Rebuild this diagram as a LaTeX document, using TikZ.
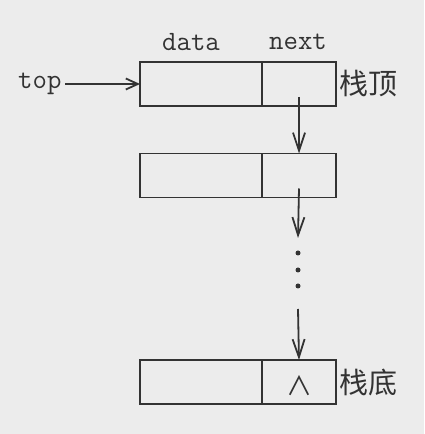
\documentclass[tikz,border=0pt]{standalone}
\usepackage{fontspec}
\newfontfamily\cjk{Noto Sans CJK SC}
\usetikzlibrary{arrows.meta,positioning}
\definecolor{bg}{RGB}{236,236,236}
\definecolor{ink}{RGB}{51,51,51}
\begin{document}
\begin{tikzpicture}[x=1pt,y=1pt,
 field/.style={draw=ink,line width=1.8pt,minimum height=44pt,inner sep=0pt,outer sep=0pt},
 dfield/.style={field,minimum width=122pt},
 nfield/.style={field,minimum width=74pt},
 ptr/.style={draw=ink,line width=1.8pt,-{Straight Barb[length=18pt,width=12pt,line width=1.8pt]}},
 lbl/.style={text=ink,font=\fontsize{28}{32}\ttfamily},
 side/.style={text=ink,font=\fontsize{29}{33}\cjk,anchor=west,inner sep=3pt},
 dot/.style={circle,fill=ink,inner sep=0pt,minimum size=5pt}]
 \fill[bg] (0,0) rectangle (424,434);
 \useasboundingbox (0,0) rectangle (424,434);
 % nodes of the stack
 \node[dfield] (d1) at (201,350) {};
 \node[nfield,right=0pt of d1] (n1) {};
 \node[dfield] (d2) at (201,258.5) {};
 \node[nfield,right=0pt of d2] (n2) {};
 \node[dfield] (d3) at (201,52) {};
 \node[nfield,right=0pt of d3] (n3) {};
 \node[text=ink,font=\fontsize{26}{30}\cjk] (nil) at ([yshift=-4pt]n3.center) {∧};
 % field names
 \node[lbl] (hd) at (191,392) {data};
 \node[lbl] (hn) at (298,392) {next};
 \node[side] (tp) at (n1.east) {栈顶};
 \node[side] (bt) at (n3.east) {栈底};
 \node[lbl,anchor=east] (top) at (65,350) {top};
 % pointers
 \coordinate (p1) at ([yshift=-13pt]n1.center);
 \coordinate (p2) at ([yshift=-13pt]n2.center);
 \coordinate (q2) at (298,196);
 \coordinate (p3) at (298,125);
 \node[dot] (e1) at (298,181) {};
 \node[dot] (e2) at (298,164) {};
 \node[dot] (e3) at (298,148) {};
 \draw[ptr,-{Straight Barb[length=12pt,width=11pt,line width=1.8pt]}] (top) -- (d1);
 \draw[ptr] (p1) -- (n2.north);
 \draw[ptr] (p2) -- (q2);
 \draw[ptr] (p3) -- (n3.north);
\end{tikzpicture}
\end{document}
